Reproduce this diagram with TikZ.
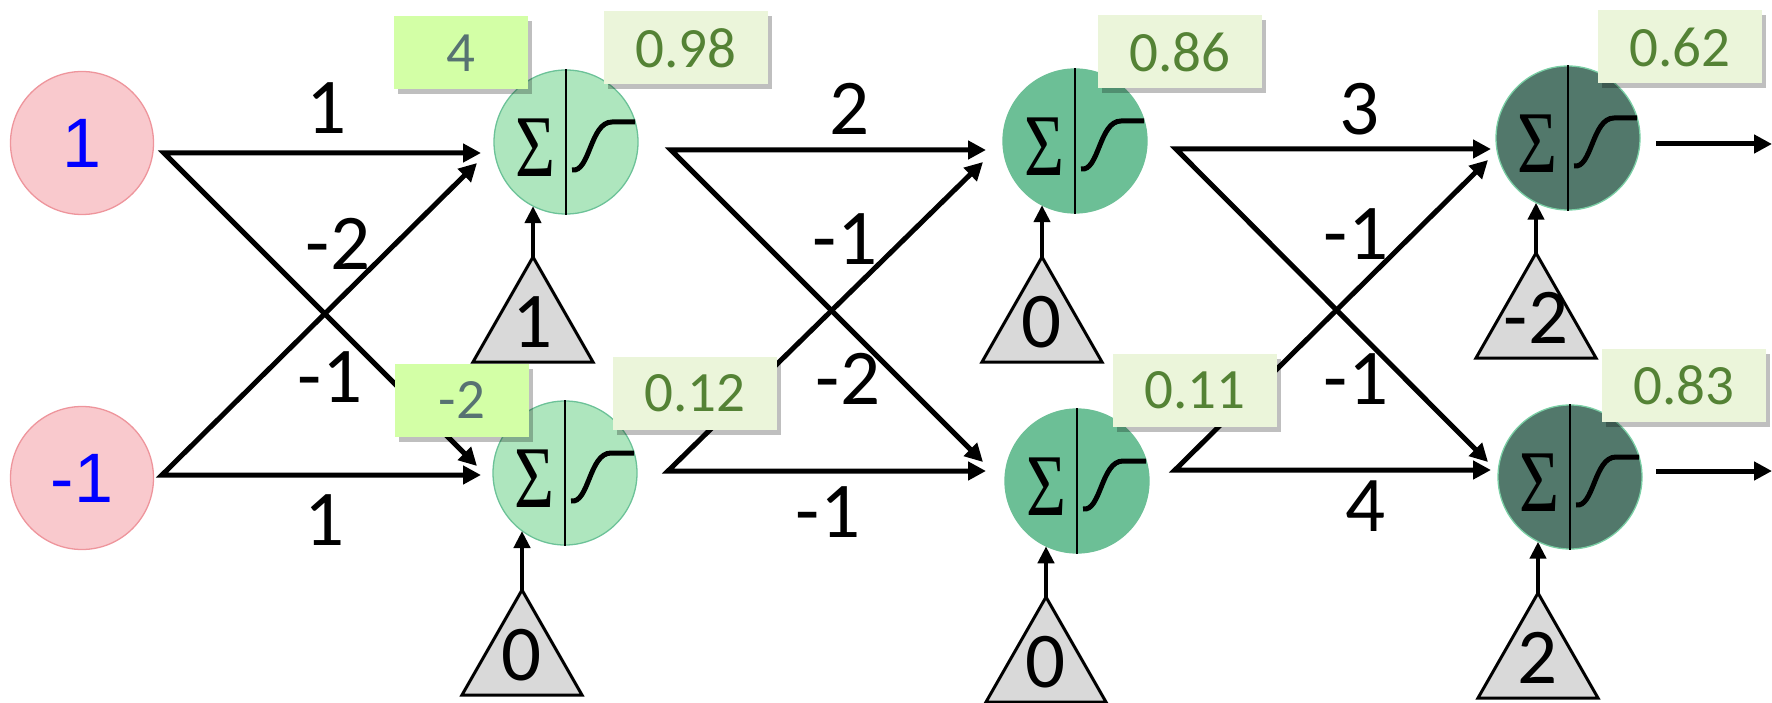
\documentclass[tikz,border=0pt]{standalone}
\usepackage{fontspec}
\setmainfont{Carlito}
\newfontfamily\arialfont{Liberation Sans}
\newfontfamily\sigmafont{Liberation Serif}
\usetikzlibrary{arrows.meta,shadows,calc}
\definecolor{inFill}{HTML}{F9C9CD}
\definecolor{inDraw}{HTML}{EE959C}
\definecolor{lOneFill}{HTML}{AEE6BE}
\definecolor{lOneDraw}{HTML}{6CC298}
\definecolor{lTwoFill}{HTML}{6CBF96}
\definecolor{lThreeFill}{HTML}{52786B}
\definecolor{lThreeDraw}{HTML}{7ACFA5}
\definecolor{preFill}{HTML}{D3FFA6}
\definecolor{preText}{HTML}{577272}
\definecolor{actFill}{HTML}{EBF5DA}
\definecolor{actText}{HTML}{548235}
\definecolor{triFill}{HTML}{D9D9D9}
\newcommand\neuronparts[1]{%
  \draw[line width=1.4pt] (#1.north) -- (#1.south);
  \node[sigmasym] (#1sig) at ($(#1)+(-31,6)$) {\scalebox{0.78}[1]{Σ}};
  \draw[sigcurve] ($(#1)+(6,28)$) .. controls ($(#1)+(24,31)$) and ($(#1)+(24,-20)$) .. ($(#1)+(46,-20)$) -- ($(#1)+(69,-20)$);
}
\newcommand\biasunit[5]{% apex name, apex pos, label, neuron, angle
  \coordinate (#1) at (#2);
  \draw[tri] (#1) -- ++(-60,105) -- ++(120,0) -- cycle;
  \node[tlab] (#1lab) at ($(#1)+(0,65)$) {#3};
  \draw[biasarrow] (#1) -- (#1 |- #4.#5);
}
\begin{document}
\begin{tikzpicture}[x=1pt,y=-1pt,
  neuron/.style={circle,minimum size=144pt,inner sep=0pt,line width=1.3pt},
  inp/.style={circle,minimum size=143pt,inner sep=0pt,fill=inFill,draw=inDraw,line width=1.3pt,text=blue,font=\arialfont\fontsize{70}{70}\selectfont},
  sigmasym/.style={inner sep=0pt,font=\sigmafont\fontsize{88}{88}\selectfont},
  sigcurve/.style={line width=5pt},
  conn/.style={line width=5pt,line join=miter,{Triangle[length=18pt,width=18pt]}-{Triangle[length=18pt,width=18pt]}},
  outconn/.style={line width=5pt,-{Triangle[length=18pt,width=18pt]}},
  biasarrow/.style={line width=4.5pt,-{Triangle[length=17pt,width=16pt]}},
  tri/.style={fill=triFill,draw=black,line width=3pt,line join=miter},
  wlab/.style={inner sep=0pt,font=\fontsize{79}{79}\selectfont},
  tlab/.style={inner sep=0pt,font=\fontsize{79}{79}\selectfont},
  boxbase/.style={inner sep=0pt,minimum height=73pt,font=\fontsize{57}{57}\selectfont,
    drop shadow={shadow xshift=4pt,shadow yshift=-5pt,fill=black,opacity=0.25}},
  prebox/.style={boxbase,fill=preFill,text=preText,minimum width=134pt},
  actbox/.style={boxbase,fill=actFill,text=actText,minimum width=164pt}
]
\useasboundingbox (0,0) rectangle (1772,703);

% neurons
\node[inp] (in1) at (82,143) {1};
\node[inp] (in2) at (82,478) {-1};
\node[neuron,fill=lOneFill,draw=lOneDraw] (n11) at (566,142) {};
\node[neuron,fill=lOneFill,draw=lOneDraw] (n12) at (565,473) {};
\node[neuron,fill=lTwoFill,draw=lTwoFill] (n21) at (1075,141) {};
\node[neuron,fill=lTwoFill,draw=lTwoFill] (n22) at (1077,481) {};
\node[neuron,fill=lThreeFill,draw=lThreeDraw] (n31) at (1568,138) {};
\node[neuron,fill=lThreeFill,draw=lThreeDraw] (n32) at (1570,477) {};
\neuronparts{n11}\neuronparts{n12}
\neuronparts{n21}\neuronparts{n22}
\neuronparts{n31}\neuronparts{n32}

% connector end points
\coordinate (s01) at (164,153); \coordinate (s02) at (162,475);
\coordinate (e11h) at (481,153); \coordinate (e11x) at (477,163);
\coordinate (e12h) at (481,475); \coordinate (e12x) at (477,466);
\coordinate (s11) at (671,150); \coordinate (s12) at (668,471);
\coordinate (e21h) at (986,150); \coordinate (e21x) at (983,162);
\coordinate (e22h) at (986,471); \coordinate (e22x) at (983,462);
\coordinate (s21) at (1176,149); \coordinate (s22) at (1175,470);
\coordinate (e31h) at (1491,149); \coordinate (e31x) at (1488,160);
\coordinate (e32h) at (1491,470); \coordinate (e32x) at (1488,462);
\coordinate (o1s) at (1656,144); \coordinate (o1e) at (1772,144);
\coordinate (o2s) at (1656,471); \coordinate (o2e) at (1772,471);

\draw[conn] (e12x) -- (s01) -- (e11h);
\draw[conn] (e11x) -- (s02) -- (e12h);
\draw[conn] (e22x) -- (s11) -- (e21h);
\draw[conn] (e21x) -- (s12) -- (e22h);
\draw[conn] (e32x) -- (s21) -- (e31h);
\draw[conn] (e31x) -- (s22) -- (e32h);
\draw[outconn] (o1s) -- (o1e);
\draw[outconn] (o2s) -- (o2e);

% weights
\node[wlab] (w1) at (327,108) {1};
\node[wlab] (w2) at (338,244) {-2};
\node[wlab] (w3) at (330,377) {-1};
\node[wlab] (w4) at (325,520) {1};
\node[wlab] (w5) at (850,109) {2};
\node[wlab] (w6) at (845,239) {-1};
\node[wlab] (w7) at (848,379) {-2};
\node[wlab] (w8) at (828,512) {-1};
\node[wlab] (w9) at (1360,109) {3};
\node[wlab] (w10) at (1356,234) {-1};
\node[wlab] (w11) at (1356,379) {-1};
\node[wlab] (w12) at (1366,506) {4};

% biases
\biasunit{a11}{533,257}{1}{n11}{242.7}
\biasunit{a12}{522,590}{0}{n12}{233.3}
\biasunit{a21}{1042,257}{0}{n21}{242.7}
\biasunit{a22}{1046,597}{0}{n22}{244.5}
\biasunit{a31}{1536,253}{-2}{n31}{243.6}
\biasunit{a32}{1538,593}{2}{n32}{243.6}

% value boxes
\node[prebox] (p11) at (461,53) {4};
\node[prebox] (p12) at (462,400) {-2};
\node[actbox] (v11) at (686,48) {0.98};
\node[actbox] (v12) at (695,393) {0.12};
\node[actbox] (v21) at (1180,52) {0.86};
\node[actbox] (v22) at (1195,390) {0.11};
\node[actbox] (v31) at (1680,47) {0.62};
\node[actbox] (v32) at (1684,385) {0.83};
\end{tikzpicture}
\end{document}
